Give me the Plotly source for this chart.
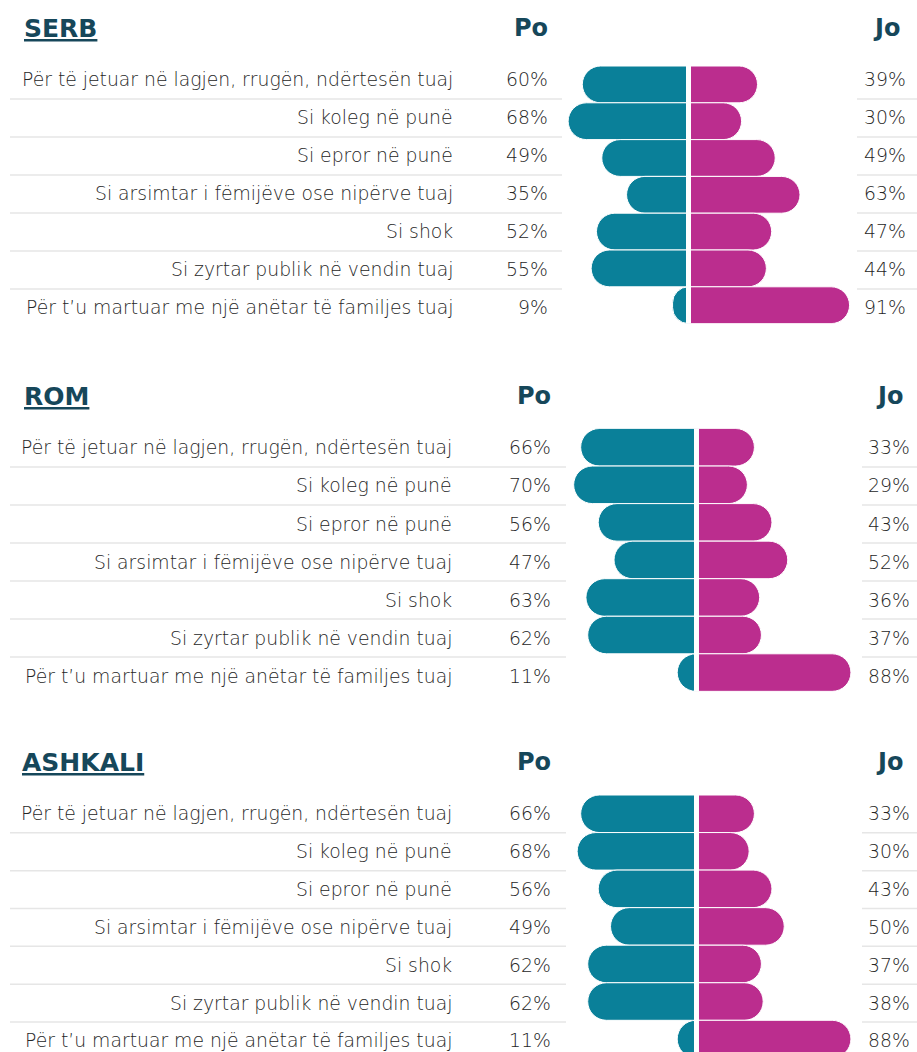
import plotly.graph_objects as go

W, H = 917, 1052

# ---- data -------------------------------------------------------------
categories = [
    "Për të jetuar në lagjen, rrugën, ndërtesën tuaj",
    "Si koleg në punë",
    "Si epror në punë",
    "Si arsimtar i fëmijëve ose nipërve tuaj",
    "Si shok",
    "Si zyrtar publik në vendin tuaj",
    "Për t’u martuar me një anëtar të familjes tuaj",
]
groups = ["SERB", "ROM", "ASHKALI"]
col_yes = "Po"
col_no = "Jo"

po_serb = [60, 68, 49, 35, 52, 55, 9]
jo_serb = [39, 30, 49, 63, 47, 44, 91]
po_rom = [66, 70, 56, 47, 63, 62, 11]
jo_rom = [33, 29, 43, 52, 36, 37, 88]
po_ashkali = [66, 68, 56, 49, 62, 62, 11]
jo_ashkali = [33, 30, 43, 50, 37, 38, 88]

po_values = [po_serb, po_rom, po_ashkali]
jo_values = [jo_serb, jo_rom, jo_ashkali]

# ---- styling ----------------------------------------------------------
TEAL = "#0a8099"
MAGENTA = "#bb2d8e"
HEAD = "#16475a"
TEXT = "#262626"
RULE = "#e6e6e6"
LABEL_FONT = "DejaVu Sans"
HEAD_FONT = "DejaVu Sans"
LABEL_SIZE = 18.8
LABEL_WEIGHT = 300

# pixel layout of each panel
panels = [
    dict(head_y=28, title_x=22, po_head=550, jo_head=902,
         text_top=61, text_pitch=38.0,
         bar_top=66.0, bar_pitch=36.8,
         center=688.5, scale=1.77,
         lab_x=455, po_x=550, jo_x=908,
         rule_l=(10, 562), rule_r=(857, 917)),
    dict(head_y=396, title_x=22, po_head=553, jo_head=905,
         text_top=429, text_pitch=38.0,
         bar_top=428.5, bar_pitch=37.55,
         center=696.5, scale=1.755,
         lab_x=454, po_x=553, jo_x=912,
         rule_l=(10, 566), rule_r=(862, 917)),
    dict(head_y=762, title_x=20, po_head=553, jo_head=905,
         text_top=795, text_pitch=37.83,
         bar_top=795.0, bar_pitch=37.55,
         center=696.5, scale=1.755,
         lab_x=454, po_x=553, jo_x=912,
         rule_l=(10, 566), rule_r=(862, 917)),
]

X_LO, X_HI = -75, 100
CENTER_GAP_PX = 5
SHORT_RADIUS_PX = 6
n = len(categories)
rows = list(range(n))

fig = go.Figure()
layout = dict(
    width=W, height=H,
    margin=dict(l=0, r=0, t=0, b=0),
    paper_bgcolor="white", plot_bgcolor="rgba(0,0,0,0)",
    showlegend=False,
    barmode="relative",
)
annotations = []
shapes = []


def py(px):
    return 1 - px / H


def label_font():
    return dict(family=LABEL_FONT, size=LABEL_SIZE, color=TEXT,
                weight=LABEL_WEIGHT)


def add_side(values, sign, color, scale, pitch, xa, ya):
    """Long bars get pill ends, bars shorter than their thickness get small
    rounded corners."""
    long_rows = [r for r, v in zip(rows, values) if v * scale >= pitch]
    short_rows = [r for r, v in zip(rows, values) if v * scale < pitch]
    for sel, radius in ((long_rows, "50%"), (short_rows, SHORT_RADIUS_PX)):
        if not sel:
            continue
        fig.add_trace(go.Bar(
            y=sel, x=[sign * values[r] for r in sel], orientation="h",
            width=1,
            marker=dict(color=color, cornerradius=radius,
                        line=dict(color="white", width=1)),
            xaxis=xa, yaxis=ya, hoverinfo="skip",
        ))


for k, (name, po, jo, p) in enumerate(zip(groups, po_values, jo_values, panels)):
    bx, by = 2 * k + 1, 2 * k + 1  # bar axes
    tx, ty = 2 * k + 2, 2 * k + 2  # text axes
    bxn = "x" if bx == 1 else f"x{bx}"
    byn = "y" if by == 1 else f"y{by}"
    txn, tyn = f"x{tx}", f"y{ty}"

    xdom = [(p["center"] - (-X_LO) * p["scale"]) / W,
            (p["center"] + X_HI * p["scale"]) / W]

    # diverging bars: "Po" to the left, "Jo" to the right
    bar_bottom = min(p["bar_top"] + n * p["bar_pitch"], H)
    bar_range_end = -0.5 + (bar_bottom - p["bar_top"]) / p["bar_pitch"]
    add_side(po, -1, TEAL, p["scale"], p["bar_pitch"], bxn, byn)
    add_side(jo, 1, MAGENTA, p["scale"], p["bar_pitch"], bxn, byn)
    layout["xaxis" if bx == 1 else f"xaxis{bx}"] = dict(
        domain=xdom, range=[X_LO, X_HI], visible=False, anchor=byn,
        fixedrange=True)
    layout["yaxis" if by == 1 else f"yaxis{by}"] = dict(
        domain=[py(bar_bottom), py(p["bar_top"])],
        range=[bar_range_end, -0.5], visible=False, anchor=bxn,
        fixedrange=True)
    # white split between the two sides
    shapes.append(dict(
        type="line", xref=bxn, yref=f"{byn} domain",
        x0=0, x1=0, y0=0, y1=1,
        line=dict(color="white", width=CENTER_GAP_PX), layer="above"))

    # text rows
    text_bottom = min(p["text_top"] + n * p["text_pitch"], H)
    text_range_end = -0.5 + (text_bottom - p["text_top"]) / p["text_pitch"]
    fig.add_trace(go.Scatter(x=[], y=[], xaxis=txn, yaxis=tyn,
                             hoverinfo="skip", showlegend=False))
    layout[f"xaxis{tx}"] = dict(domain=[0, 0.01], range=[0, 1], visible=False,
                                anchor=tyn, fixedrange=True)
    layout[f"yaxis{ty}"] = dict(
        domain=[py(text_bottom), py(p["text_top"])],
        range=[text_range_end, -0.5], visible=False, anchor=txn,
        fixedrange=True)

    for i, (cat, a, b) in enumerate(zip(categories, po, jo)):
        annotations.append(dict(
            x=p["lab_x"] / W, xref="paper", y=i, yref=tyn,
            text=cat, showarrow=False, xanchor="right", yanchor="middle",
            font=label_font()))
        annotations.append(dict(
            x=p["po_x"] / W, xref="paper", y=i, yref=tyn,
            text=f"{a}%", showarrow=False, xanchor="right", yanchor="middle",
            font=label_font()))
        annotations.append(dict(
            x=p["jo_x"] / W, xref="paper", y=i, yref=tyn,
            text=f"{b}%", showarrow=False, xanchor="right", yanchor="middle",
            font=label_font()))

    for i in range(n - 1):
        for seg in (p["rule_l"], p["rule_r"]):
            shapes.append(dict(
                type="line", xref="paper", yref=tyn,
                x0=seg[0] / W, x1=seg[1] / W, y0=i + 0.5, y1=i + 0.5,
                line=dict(color=RULE, width=1.5), layer="above"))

    # panel headings
    annotations.append(dict(
        x=p["title_x"] / W, xref="paper", y=py(p["head_y"]), yref="paper",
        text=f"<b><u>{name}</u></b>", showarrow=False,
        xanchor="left", yanchor="middle",
        font=dict(family=HEAD_FONT, size=25, color=HEAD)))
    annotations.append(dict(
        x=p["po_head"] / W, xref="paper", y=py(p["head_y"]), yref="paper",
        text=f"<b>{col_yes}</b>", showarrow=False,
        xanchor="right", yanchor="middle",
        font=dict(family=HEAD_FONT, size=24, color=HEAD)))
    annotations.append(dict(
        x=p["jo_head"] / W, xref="paper", y=py(p["head_y"]), yref="paper",
        text=f"<b>{col_no}</b>", showarrow=False,
        xanchor="right", yanchor="middle",
        font=dict(family=HEAD_FONT, size=24, color=HEAD)))

layout["annotations"] = annotations
layout["shapes"] = shapes
fig.update_layout(**layout)

fig.write_html("out.html", config={"displayModeBar": False})
